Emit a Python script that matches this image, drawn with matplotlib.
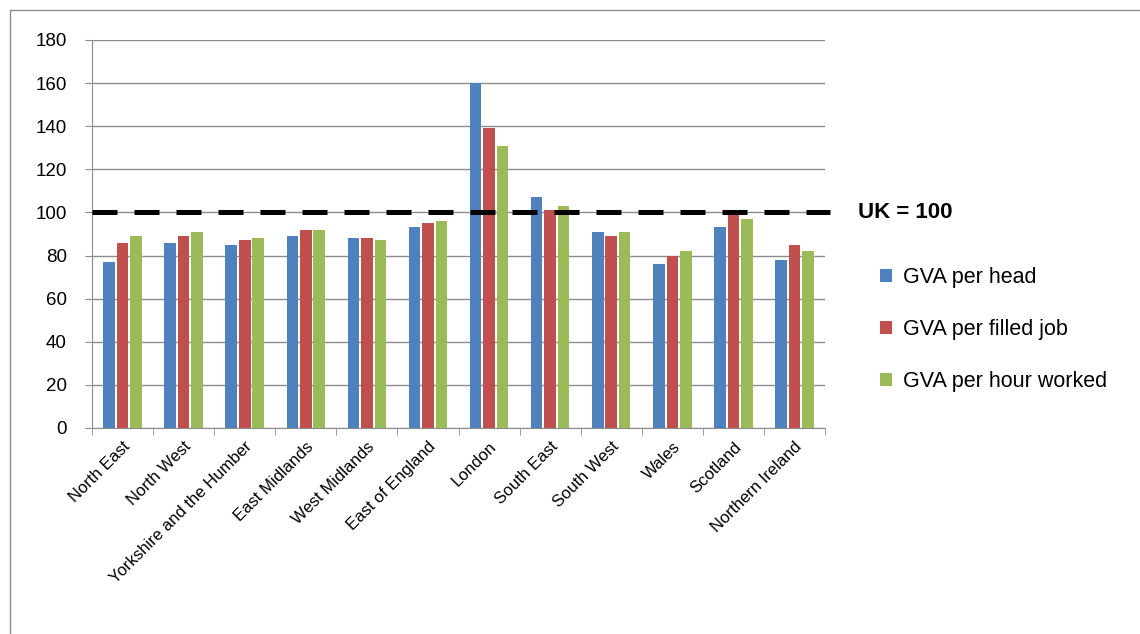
import numpy as np
import matplotlib
matplotlib.use('Agg')
import matplotlib.pyplot as plt
from matplotlib.patches import Rectangle
from matplotlib.ticker import FixedLocator

plt.rcParams['font.family'] = ['Liberation Sans', 'DejaVu Sans']

regions = ['North East', 'North West', 'Yorkshire and the Humber', 'East Midlands',
           'West Midlands', 'East of England', 'London', 'South East', 'South West',
           'Wales', 'Scotland', 'Northern Ireland']
per_head = [77, 86, 85, 89, 88, 93, 160, 107, 91, 76, 93, 78]
per_job = [86, 89, 87, 92, 88, 95, 139, 101, 89, 80, 99, 85]
per_hour = [89, 91, 88, 92, 87, 96, 131, 103, 91, 82, 97, 82]
series_names = ['GVA per head', 'GVA per filled job', 'GVA per hour worked']
colors = ['#4F81BD', '#C0504D', '#9BBB59']
uk_level = 100

fig = plt.figure(figsize=(11.4, 6.34), dpi=100)
ax = fig.add_axes([0.0807, 0.325, 0.643, 0.612])

x = np.arange(len(regions))
width = 0.19
offset = 0.22
bars = []
for k, (vals, c) in enumerate(zip([per_head, per_job, per_hour], colors)):
    b = ax.bar(x + (k - 1) * offset, vals, width, color=c, zorder=3)
    bars.append(b)

# reference line UK = 100
ax.axhline(uk_level, xmin=0, xmax=1.007, color='black', lw=3.6,
           dashes=(5, 3.4), zorder=4, clip_on=False)
ax.text(1.045, uk_level, 'UK = 100', transform=ax.get_yaxis_transform(),
        fontsize=16, fontweight='bold', va='center', ha='left')

ax.set_xlim(-0.5, len(regions) - 0.5)
ax.set_ylim(0, 180)
ax.set_yticks(np.arange(0, 181, 20))
ax.yaxis.grid(True, color='#8c8c8c', lw=1, zorder=0)
ax.tick_params(axis='y', length=5, color='#8c8c8c', labelsize=13.5, pad=13)

ax.set_xticks(x)
ax.set_xticklabels(regions, rotation=45, ha='right', rotation_mode='anchor',
                   fontsize=12)
ax.tick_params(axis='x', which='major', length=0, pad=8)
ax.xaxis.set_minor_locator(FixedLocator(np.arange(-0.5, len(regions), 1)))
ax.tick_params(axis='x', which='minor', length=5, color='#8c8c8c', direction='out')

for side in ['top', 'right']:
    ax.spines[side].set_visible(False)
for side in ['left', 'bottom']:
    ax.spines[side].set_color('#8c8c8c')

fig.legend([b[0] for b in bars], series_names, loc='upper left',
           bbox_to_anchor=(0.755, 0.61), frameon=False, fontsize=15.5,
           handlelength=0.55, handleheight=0.55, handletextpad=0.5,
           labelspacing=1.45)

# chart border
fig.patches.append(Rectangle((10 / 1140, -0.05), 1.2, 1 - 10 / 634 + 0.05,
                             transform=fig.transFigure, fill=False,
                             edgecolor='#8c8c8c', lw=1))

fig.savefig('out.png', dpi=100)
